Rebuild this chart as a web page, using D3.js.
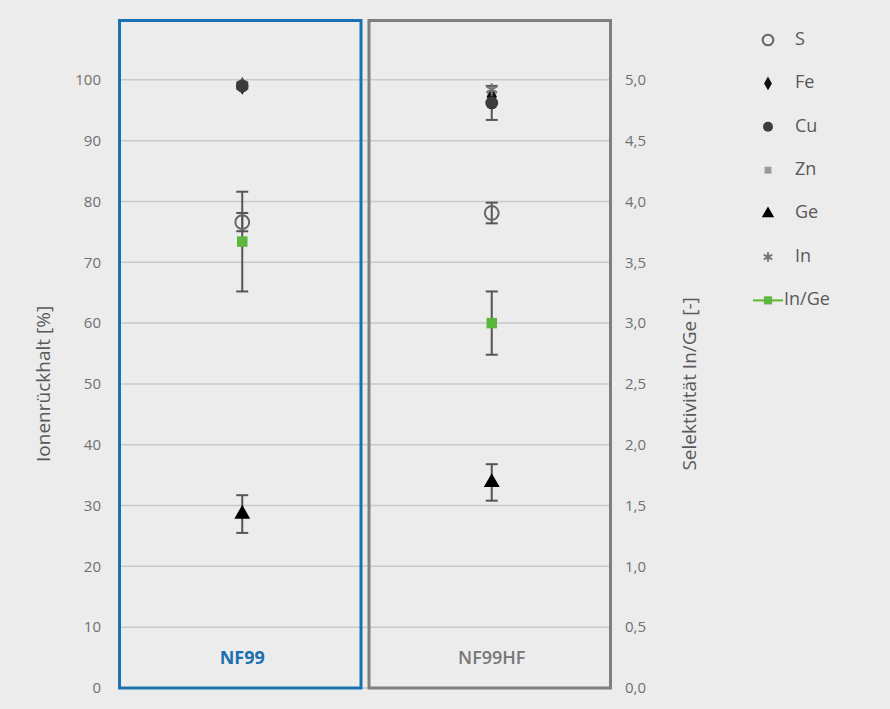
<!DOCTYPE html>
<html>
<head>
<meta charset="utf-8">
<script src="https://cdn.jsdelivr.net/npm/d3@7"></script>
<style>
  body { margin: 0; background: #ececec; }
  svg { display: block; font-family: "Open Sans", sans-serif; }
</style>
</head>
<body>
<svg width="890" height="709"></svg>
<script>
// data
const categories = ['NF99', 'NF99HF'];
const sVals  = [76.6, 78.1];
const sErr   = [1.5, 1.7];
const feVals = [99, 97.2];
const cuVals = [99, 96.2];
const cuErr  = [0.5, 2.8];
const znVals = [99.1, 97.6];
const geVals = [28.6, 33.8];
const geErr  = [3.1, 3.0];
const inVals = [99.2, 98.4];
const inGeVals = [3.67, 3.0];
const inGeErr  = [0.41, 0.26];
const leftTicks = [0, 10, 20, 30, 40, 50, 60, 70, 80, 90, 100];
const rightTicks = [0, 0.5, 1, 1.5, 2, 2.5, 3, 3.5, 4, 4.5, 5];
const legendItems = ['S', 'Fe', 'Cu', 'Zn', 'Ge', 'In', 'In/Ge'];

const svg = d3.select('svg');
const margin = {top: 19, right: 278, bottom: 21, left: 118};
const width = 890 - margin.left - margin.right;
const height = 709 - margin.top - margin.bottom;

const x = d3.scaleBand().domain(categories).range([0, width]).paddingInner(0.02);
const y = d3.scaleLinear().domain([0, 110]).range([height, 0]);
const y2 = d3.scaleLinear().domain([0, 5.5]).range([height, 0]);

const chart = svg.append('g')
  .attr('transform', 'translate(' + margin.left + ',' + margin.top + ')');

// gridlines
chart.selectAll('.grid')
  .data(leftTicks).enter()
  .append('line')
  .attr('x1', 0).attr('x2', width)
  .attr('y1', d => y(d)).attr('y2', d => y(d))
  .attr('stroke', '#c9c9c9')
  .attr('stroke-width', 1.5);

// axes
const fmtComma = d => d3.format('.1f')(d).replace('.', ',');
const yAxis = d3.axisLeft(y).tickValues(leftTicks).tickSize(0).tickPadding(17);
const y2Axis = d3.axisRight(y2).tickValues(rightTicks).tickSize(0).tickPadding(13).tickFormat(fmtComma);
const gl = chart.append('g').call(yAxis);
const gr = chart.append('g').attr('transform', 'translate(' + width + ',0)').call(y2Axis);
[gl, gr].forEach(g => {
  g.select('.domain').remove();
  g.selectAll('text').attr('fill', '#707070').style('font-size', '15px')
    .style('font-family', '"Open Sans", sans-serif');
});

chart.append('text').text('Ionenrückhalt [%]')
  .attr('transform', 'translate(' + (45 - margin.left) + ',' + y(50) + ') rotate(-90)')
  .attr('text-anchor', 'middle').attr('dominant-baseline', 'middle')
  .attr('fill', '#595959').style('font-size', '19px');
chart.append('text').text('Selektivität In/Ge [-]')
  .attr('transform', 'translate(' + (width + 79) + ',' + y(50) + ') rotate(-90)')
  .attr('text-anchor', 'middle').attr('dominant-baseline', 'middle')
  .attr('fill', '#595959').style('font-size', '19px');

// category boxes
const boxColors = ['#1a70b0', '#7f7f7f'];
chart.selectAll('.box')
  .data(categories).enter()
  .append('rect')
  .attr('x', d => x(d) + 1.5)
  .attr('y', 1.5)
  .attr('width', x.bandwidth() - 3)
  .attr('height', height - 1.5)
  .attr('fill', 'none')
  .attr('stroke', (d, i) => boxColors[i])
  .attr('stroke-width', 3);

chart.selectAll('.cat')
  .data(categories).enter()
  .append('text')
  .text(d => d)
  .attr('x', d => x(d) + x.bandwidth() / 2 + 2)
  .attr('y', y(4))
  .attr('text-anchor', 'middle')
  .attr('fill', (d, i) => i === 0 ? '#1a70b0' : '#777')
  .style('font-size', '18px')
  .style('font-weight', (d, i) => i === 0 ? 'bold' : '600');

const cx = d => x(d) + x.bandwidth() / 2 + 2;

// error bars
function errBars(vals, errs, scale) {
  const g = chart.append('g');
  categories.forEach((c, i) => {
    const top = scale(vals[i] + errs[i]), bot = scale(vals[i] - errs[i]);
    g.append('line').attr('x1', cx(c)).attr('x2', cx(c)).attr('y1', top).attr('y2', bot)
      .attr('stroke', '#555').attr('stroke-width', 2);
    [top, bot].forEach(v => g.append('line')
      .attr('x1', cx(c) - 6).attr('x2', cx(c) + 6).attr('y1', v).attr('y2', v)
      .attr('stroke', '#555').attr('stroke-width', 2));
  });
}
errBars(inGeVals, inGeErr, y2);
errBars(sVals, sErr, y);
errBars(cuVals, cuErr, y);
errBars(geVals, geErr, y);

// marker shapes
const shapes = {
  'S':  {type: d3.symbolCircle, size: 150, fill: 'none', stroke: '#666', sw: 2},
  'Fe': {type: d3.symbolDiamond, size: 90, fill: '#111', stroke: 'none', sw: 0},
  'Cu': {type: d3.symbolCircle, size: 130, fill: '#3c3c3c', stroke: 'none', sw: 0},
  'Zn': {type: d3.symbolSquare, size: 80, fill: '#9a9a9a', stroke: 'none', sw: 0},
  'Ge': {type: d3.symbolTriangle, size: 110, fill: '#000', stroke: 'none', sw: 0},
  'In': {type: d3.symbolAsterisk, size: 110, fill: 'none', stroke: '#777', sw: 2},
  'In/Ge': {type: d3.symbolSquare, size: 110, fill: '#5cb83c', stroke: 'none', sw: 0}
};
function drawMarkers(name, vals, scale) {
  const s = shapes[name];
  chart.selectAll(null)
    .data(categories).enter()
    .append('path')
    .attr('d', d3.symbol().type(s.type).size(s.size))
    .attr('transform', (d, i) => 'translate(' + cx(d) + ',' + scale(vals[i]) + ')')
    .attr('fill', s.fill).attr('stroke', s.stroke).attr('stroke-width', s.sw);
}
drawMarkers('Zn', znVals, y);
drawMarkers('Fe', feVals, y);
drawMarkers('In', inVals, y);
drawMarkers('Cu', cuVals, y);
drawMarkers('S', sVals, y);
drawMarkers('Ge', geVals, y);
drawMarkers('In/Ge', inGeVals, y2);

// legend
const legend = svg.append('g').attr('transform', 'translate(768,40)');
legendItems.forEach((name, i) => {
  const s = shapes[name];
  const g = legend.append('g').attr('transform', 'translate(0,' + i * 43.4 + ')');
  if (name === 'In/Ge') {
    g.append('line').attr('x1', -15).attr('x2', 15).attr('y1', 0).attr('y2', 0)
      .attr('stroke', '#5cb83c').attr('stroke-width', 2);
  }
  g.append('path')
    .attr('d', d3.symbol().type(s.type).size(s.size * 0.6))
    .attr('fill', s.fill).attr('stroke', s.stroke).attr('stroke-width', s.sw);
  g.append('text').text(name)
    .attr('x', name === 'In/Ge' ? 16 : 27).attr('y', 0)
    .attr('dominant-baseline', 'middle')
    .attr('fill', '#595959').style('font-size', '18px');
});
</script>
</body>
</html>
